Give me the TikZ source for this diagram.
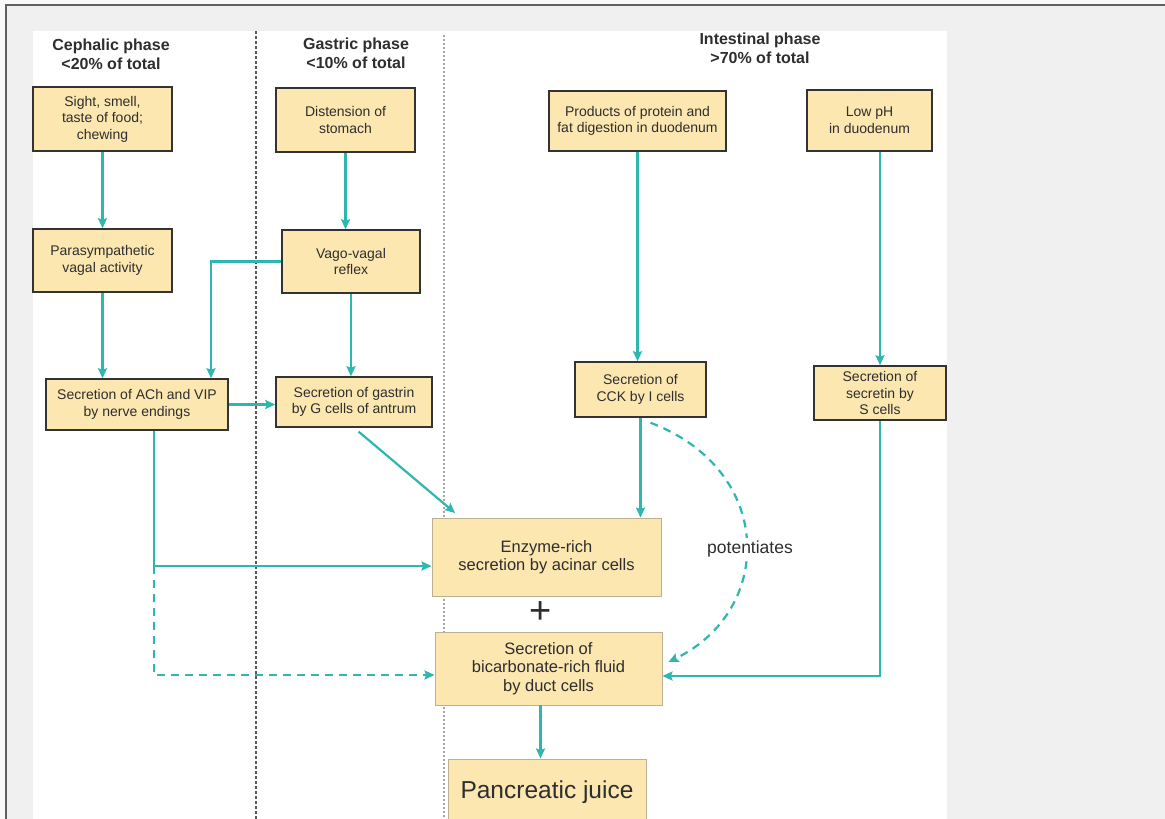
\documentclass[tikz,border=0pt]{standalone}
\usepackage{fontspec}
\setmainfont{Liberation Sans}
\usetikzlibrary{arrows.meta}
\definecolor{boxfill}{HTML}{FCE7B1}
\definecolor{boxline}{HTML}{333333}
\definecolor{bigline}{HTML}{BBB08F}
\definecolor{inkgray}{HTML}{2E2E2E}
\definecolor{flowc}{HTML}{2DB7B0}
\definecolor{pagegray}{HTML}{F0F0F0}
\begin{document}
\begin{tikzpicture}[x=1pt, y=-1pt,
  box/.style n args={2}{draw=boxline, line width=1.5pt, fill=boxfill, text=inkgray,
    align=center, inner sep=0pt, minimum width=#1pt, minimum height=#2pt,
    font=\fontsize{14}{16.5}\selectfont},
  bigbox/.style n args={2}{draw=bigline, line width=0.9pt, fill=boxfill, text=inkgray,
    align=center, inner sep=0pt, minimum width=#1pt, minimum height=#2pt,
    font=\fontsize{16.5}{18.5}\selectfont},
  phase/.style={align=center, text=inkgray, font=\fontsize{16}{19}\selectfont\bfseries},
  flow/.style={draw=flowc, line width=2.2pt, -{Stealth[length=10pt, width=9pt, inset=1.5pt]}},
  flowdash/.style={flow, dash pattern=on 8pt off 6pt}]
\clip (0,0) rectangle (1165,819);
% page and frame
\fill[gray!5] (0,0) rectangle (1165,819);
\fill[pagegray] (6,5) rectangle (1165,819);
\draw[gray!75!black, line width=1.4pt] (6,819) -- (6,5) -- (1165,5);
\fill[white] (33,31) rectangle (947,819);
% phase dividers
\draw[gray!70!black, line width=1.2pt, dash pattern=on 3pt off 2pt] (256,31) -- (256,819);
\draw[gray!70, line width=1.2pt, dash pattern=on 2pt off 2pt] (444,35) -- (444,819);
% phase titles
\node[phase] (ceph) at (111,54) {Cephalic phase\\<20\% of total};
\node[phase] (gast) at (356,53) {Gastric phase\\<10\% of total};
\node[phase] (intest) at (760,48) {Intestinal phase\\>70\% of total};
% boxes
\node[box={139}{64}] (sight) at (102.5,119) {Sight, smell,\\taste of food;\\chewing};
\node[box={139}{63}] (para) at (102.5,260.5) {Parasympathetic\\vagal activity};
\node[box={182}{51}] (ach) at (137,404.5) {Secretion of ACh and VIP\\by nerve endings};
\node[box={139}{64}] (dist) at (345.5,120) {Distension of\\stomach};
\node[box={138}{63}] (vago) at (351,261.5) {Vago-vagal\\reflex};
\node[box={156}{50}] (gastrin) at (354,402) {Secretion of gastrin\\by G cells of antrum};
\node[box={177}{60}] (prod) at (637.5,121) {Products of protein and\\fat digestion in duodenum};
\node[box={125}{61}] (lowph) at (869.5,120.5) {Low pH\\in duodenum};
\node[box={131}{55}] (cck) at (640.5,389.5) {Secretion of\\CCK by I cells};
\node[box={132}{54}] (secretin) at (880,393) {Secretion of\\secretin by\\S cells};
\node[bigbox={229}{78}] (enzyme) at (546.5,557) {Enzyme-rich\\secretion by acinar cells};
\node[bigbox={227}{73}] (bicarb) at (548.5,668.5) {Secretion of\\bicarbonate-rich fluid\\by duct cells};
\node[bigbox={198}{66}, font=\fontsize{24.5}{28}\selectfont] (juice) at (547,792) {Pancreatic juice};
\node[text=inkgray, font=\fontsize{38}{38}\selectfont] (plus) at (541,613) {+};
% connectors
\coordinate (split) at (154,566);
\coordinate (bicarbin) at ([yshift=-6.5pt]bicarb.west);
\draw[flow] (sight) -- (para);
\draw[flow] (para.south) -- (para.south |- ach.north);
\draw[flow] (vago.west) -| ([xshift=74pt]ach.north);
\draw[flow] (dist.south) -- (dist.south |- vago.north);
\draw[flow] (vago.south) -- (vago.south |- gastrin.north);
\draw[flow] (ach.east) -- (ach.east -| gastrin.west);
\draw[flow, shorten <=6pt, shorten >=7pt] (gastrin.south) -- ([xshift=-86pt]enzyme.north);
\draw[flow] (ach.south -| split) -- (split) -- (split -| enzyme.west);
\draw[flowdash] (split) |- (bicarbin);
\draw[flow] (prod.south) -- (prod.south |- cck.north);
\draw[flow] (cck.south) -- (cck.south |- enzyme.north);
\draw[flowdash] ([xshift=10pt,yshift=-5pt]cck.south)
    .. controls (775,470) and (775,610) .. ([xshift=6pt,yshift=6.5pt]bicarb.east);
\node[fill=white, text=inkgray, inner sep=3pt, font=\fontsize{17.5}{20}\selectfont] (pot) at (750,549) {potentiates};
\draw[flow] (secretin.north |- lowph.south) -- (secretin.north);
\draw[flow] (secretin.south) |- ([yshift=-7.5pt]bicarb.east);
\draw[flow] ([xshift=-8pt]bicarb.south) -- ([xshift=-8pt]bicarb.south |- juice.north);
\end{tikzpicture}
\end{document}
